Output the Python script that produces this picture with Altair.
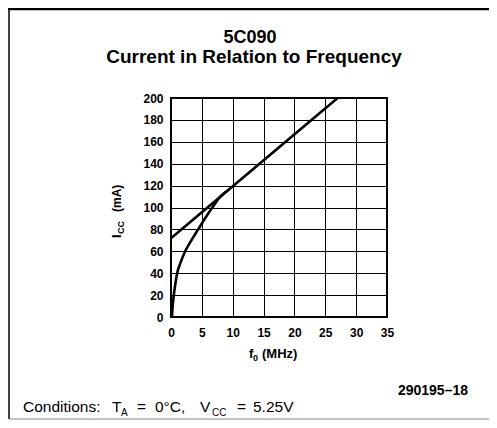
import altair as alt
import pandas as pd

FONT = "Liberation Sans"

# ---- data ----
x_ticks = [0, 5, 10, 15, 20, 25, 30, 35]
y_ticks = [0, 20, 40, 60, 80, 100, 120, 140, 160, 180, 200]

line_freq = [0, 27]
line_icc = [72, 200]

curve_freq = [0.15, 0.3, 0.5, 0.75, 1.0, 1.5, 2.3, 3.3, 4.4, 5.5, 6.7, 8.0, 9.3]
curve_icc = [0, 12, 22, 32, 40, 49, 60, 70, 80, 90, 100, 110, 116]

line_df = pd.DataFrame({"f": line_freq, "icc": line_icc})
curve_df = pd.DataFrame({"f": curve_freq, "icc": curve_icc})

x_axis = alt.Axis(
    values=x_ticks, title=None, grid=True, ticks=False, tickSize=0, domain=False,
    labelFont=FONT, labelFontWeight="bold", labelFontSize=12, labelColor="black",
    labelPadding=10, labelFlush=False, labelOverlap=False,
    gridColor="black", gridWidth=1, gridOpacity=1,
)
y_axis = alt.Axis(
    values=y_ticks, title=None, grid=True, ticks=False, tickSize=0, domain=False,
    labelFont=FONT, labelFontWeight="bold", labelFontSize=12, labelColor="black",
    labelPadding=8, labelFlush=False, labelOverlap=False,
    gridColor="black", gridWidth=1, gridOpacity=1,
)
x_scale = alt.Scale(domain=[0, 35], nice=False, zero=False)
y_scale = alt.Scale(domain=[0, 200], nice=False)


def xe():
    return alt.X("f:Q", scale=x_scale, axis=x_axis)


def ye():
    return alt.Y("icc:Q", scale=y_scale, axis=y_axis)


line = alt.Chart(line_df).mark_line(color="black", strokeWidth=2.6).encode(x=xe(), y=ye())
curve = alt.Chart(curve_df).mark_line(
    color="black", strokeWidth=2.6, interpolate="monotone"
).encode(x=xe(), y=ye())

one = alt.Data(values=[{}])


def txt(s, x, y, size, weight="normal", align="left", angle=0):
    return alt.Chart(one).mark_text(
        text=s, fontSize=size, font=FONT, fontWeight=weight, align=align,
        baseline="alphabetic", angle=angle, color="black",
    ).encode(x=alt.value(x), y=alt.value(y))


def hrule(x1, x2, y, w, color="black"):
    return alt.Chart(one).mark_rule(color=color, strokeWidth=w).encode(
        x=alt.value(x1), x2=alt.value(x2), y=alt.value(y)
    )


def vrule(x, y1, y2, w, color="black"):
    return alt.Chart(one).mark_rule(color=color, strokeWidth=w).encode(
        x=alt.value(x), y=alt.value(y1), y2=alt.value(y2)
    )


texts = [
    txt("5C090", 79, -55, 18, "bold", "center"),
    txt("Current in Relation to Frequency", 83, -35, 19, "bold", "center"),
    # x title f0 (MHz)
    txt("f", 78, 260, 13, "bold"),
    txt("0", 82, 263, 9, "bold"),
    txt("(MHz)", 91, 260, 13, "bold"),
    # y title Icc (mA)
    txt("I", -50, 140, 13, "bold", "left", 270),
    txt("CC", -47, 136, 9, "bold", "left", 270),
    txt("(mA)", -50, 114, 12, "bold", "left", 270),
    # figure number
    txt("290195\u201318", 297, 297, 14, "bold", "right"),
    # conditions
    txt("Conditions:", -148, 314, 15.5),
    txt("T", -59, 314, 15.5),
    txt("A", -50, 318, 10),
    txt("=", -34, 314, 15.5),
    txt("0\u00b0C,", -16, 314, 15.5),
    txt("V", 29, 314, 15.5),
    txt("CC", 41, 318, 10),
    txt("=", 66, 314, 15.5),
    txt("5.25V", 82, 314, 15.5),
]

borders = [
    hrule(-163, 318, -89, 2.5),
    vrule(-162, -89, 321, 1.5),
    hrule(-162, 318, 321, 1, "#888888"),
]

chart = alt.layer(line, curve, *texts, *borders).properties(
    width=216,
    height=219,
    padding={"left": 163, "top": 90, "right": 102, "bottom": 103},
    autosize=alt.AutoSizeParams(type="none"),
    background="white",
).configure_view(stroke="black", strokeWidth=2)

chart.save("out.html", embed_options={"renderer": "svg", "actions": False})
